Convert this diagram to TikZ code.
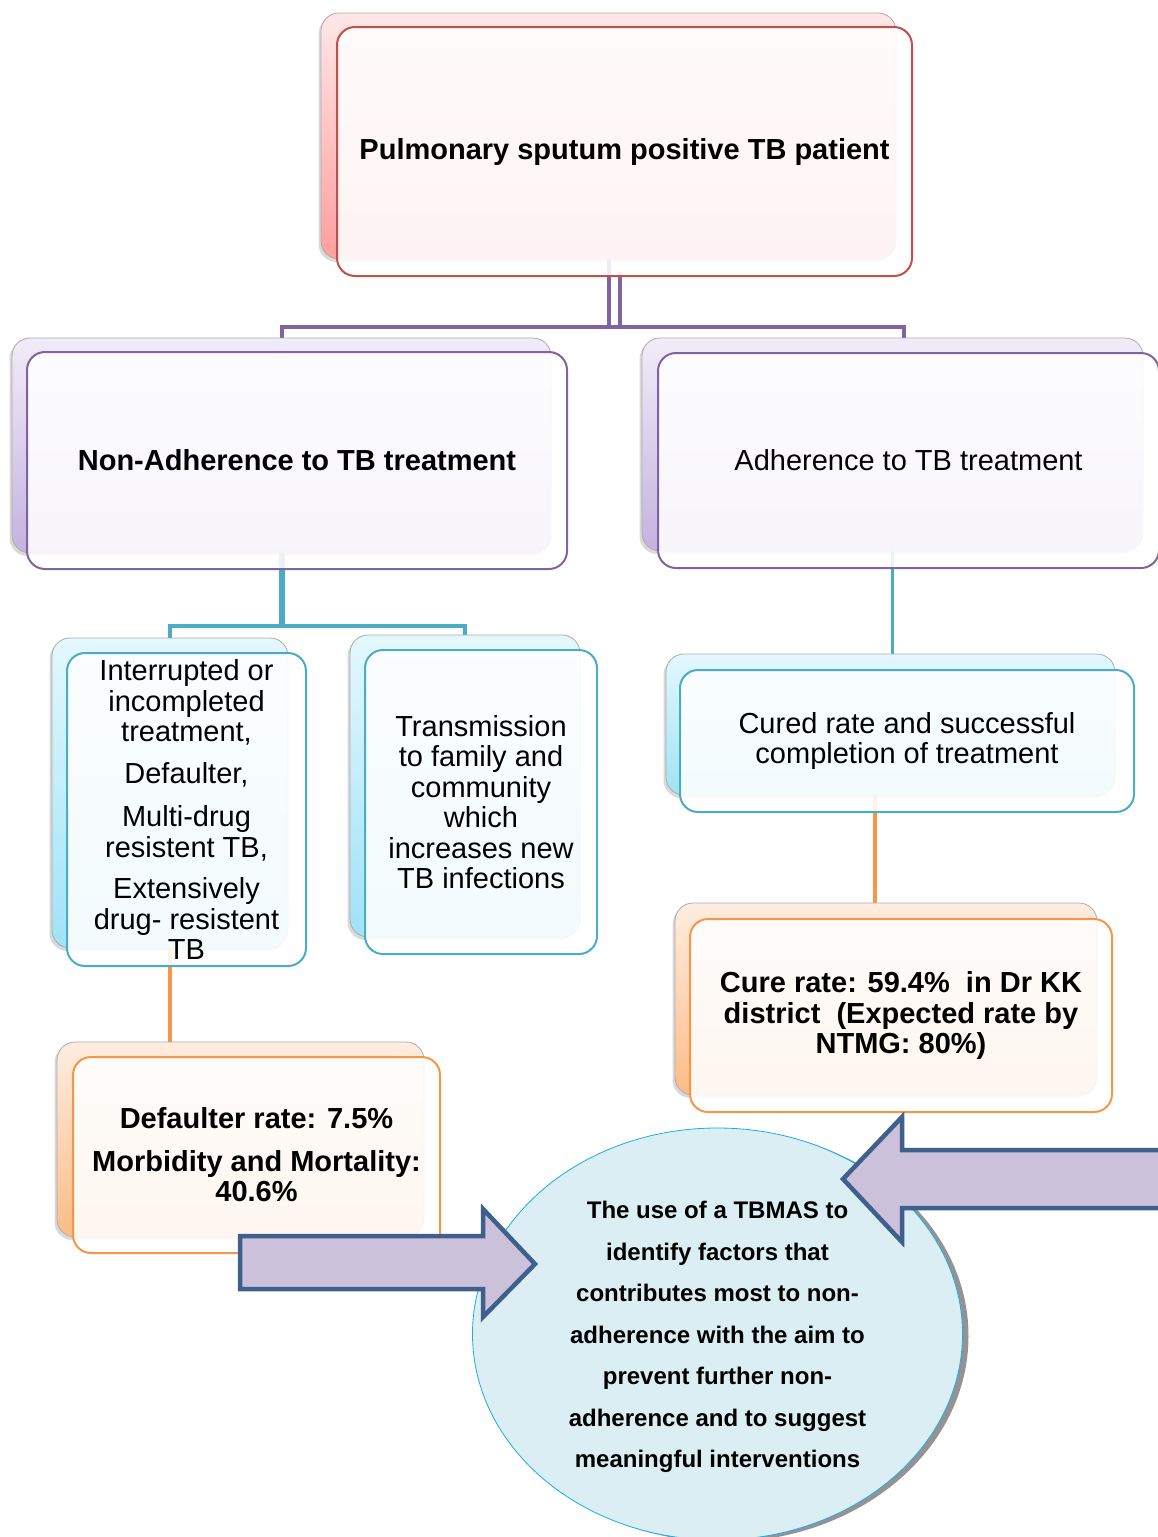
\documentclass[tikz,border=0pt]{standalone}
\usepackage{fontspec}
\setmainfont{Liberation Sans}
\usetikzlibrary{shapes.geometric,shadows,calc}
\pgfdeclarelayer{bg}
\pgfsetlayers{bg,main}

% palette
\definecolor{redE}{HTML}{C0504D}
\definecolor{redT}{HTML}{FFE7E7}
\definecolor{redB}{HTML}{FF9E9E}
\definecolor{purE}{HTML}{8064A2}
\definecolor{purT}{HTML}{F1ECF8}
\definecolor{purB}{HTML}{C4B2E0}
\definecolor{tealE}{HTML}{4BACC6}
\definecolor{tealT}{HTML}{E4F8FD}
\definecolor{tealB}{HTML}{9FE3F6}
\definecolor{orE}{HTML}{F79646}
\definecolor{orT}{HTML}{FEEDE0}
\definecolor{orB}{HTML}{FCBC86}
\definecolor{ovalF}{HTML}{DAEEF3}
\definecolor{ovalE}{HTML}{1CADE4}
\definecolor{arrF}{HTML}{CCC1DA}
\definecolor{arrE}{HTML}{3F5F8C}

\tikzset{
  box/.style={rectangle, rounded corners=18pt, inner sep=0pt, align=center},
  backbox/.style={box, draw=gray!65, line width=0.8pt,
    drop shadow={shadow xshift=-2.5pt, shadow yshift=-3pt, opacity=0.3}},
  frontbox/.style={box, line width=2pt, fill=white, fill opacity=0.88, text opacity=1},
  reg/.style={font=\fontsize{29}{30.5}\selectfont},
  bld/.style={font=\fontsize{29}{30.5}\selectfont\bfseries},
  purline/.style={draw=purE, line width=4pt},
  tealline/.style={draw=tealE, line width=4pt},
  orline/.style={draw=orE, line width=3.5pt},
  oval/.style={ellipse, minimum width=490pt, minimum height=412pt, fill=ovalF,
    draw=ovalE, line width=0.8pt,
    drop shadow={shadow xshift=6pt, shadow yshift=-2pt, fill=gray!85, opacity=1}},
  ovaltext/.style={align=center, inner sep=0pt,
    font=\fontsize{24}{41.5}\selectfont\bfseries},
  blockarrow/.style={fill=arrF, draw=arrE, line width=4.5pt, line join=miter}
}

\begin{document}
\begin{tikzpicture}[x=1pt, y=-1pt]
\useasboundingbox (0,0) rectangle (1157,1537);

% ---- top level
\node[backbox, top color=redT, bottom color=redB, minimum width=575pt, minimum height=246pt] (topB) at (608.5,136) {};
\node[frontbox, draw=redE, minimum width=575pt, minimum height=249pt, bld] (top) at (624.5,151.5) {Pulmonary sputum positive TB patient};

% ---- second level
\node[backbox, top color=purT, bottom color=purB, minimum width=539pt, minimum height=215pt] (nonB) at (281.5,445.5) {};
\node[frontbox, draw=purE, minimum width=540pt, minimum height=217pt, bld] (non) at (297,460.5) {Non-Adherence to TB treatment};

\node[backbox, top color=purT, bottom color=purB, minimum width=501pt, minimum height=213pt] (adhB) at (892.5,444.5) {};
\node[frontbox, draw=purE, minimum width=501pt, minimum height=215pt, reg] (adh) at (908.5,460.5) {Adherence to TB treatment};

% ---- third level
\node[backbox, top color=tealT, bottom color=tealB, minimum width=236pt, minimum height=310pt] (intB) at (170,793) {};
\node[frontbox, draw=tealE, minimum width=239pt, minimum height=313pt, reg] (int) at (186.5,809.5)
  {Interrupted or\\ incompleted\\ treatment,\\[11pt] Defaulter,\\[13pt] Multi-drug\\ resistent TB,\\[11pt] Extensively\\ drug- resistent\\ TB};

\node[backbox, top color=tealT, bottom color=tealB, minimum width=230pt, minimum height=302pt] (trB) at (465,786) {};
\node[frontbox, draw=tealE, minimum width=232pt, minimum height=304pt, reg] (tr) at (481,802)
  {Transmission\\ to family and\\ community\\ which\\ increases new\\ TB infections};

\node[backbox, top color=tealT, bottom color=tealB, minimum width=449pt, minimum height=141pt] (curB) at (890.5,724.5) {};
\node[frontbox, draw=tealE, minimum width=454pt, minimum height=142pt, reg] (cur) at (907,741)
  {Cured rate and successful\\ completion of treatment};

% ---- fourth level
\node[backbox, top color=orT, bottom color=orB, minimum width=367pt, minimum height=195pt] (oraLB) at (240.5,1139.5) {};
\node[frontbox, draw=orE, minimum width=367pt, minimum height=196pt, bld] (oraL) at (256.5,1155)
  {Defaulter rate: 7.5\%\\[12pt] Morbidity and Mortality:\\ 40.6\%};

\node[backbox, top color=orT, bottom color=orB, minimum width=422pt, minimum height=192pt] (oraRB) at (886,999) {};
\node[frontbox, draw=orE, minimum width=422pt, minimum height=193pt, bld] (oraR) at (901,1015.5)
  {Cure rate: 59.4\%\ \ in Dr KK\\ district\ \ (Expected rate by\\ NTMG: 80\%)};

% ---- connectors, behind the boxes
\coordinate (purbus) at (600,327);
\coordinate (tealbus) at (300,626);
\coordinate (orR) at (875,0);
\coordinate (topmid) at ($(topB.south)!0.7!(top.south)$);
\coordinate (adhmid) at ($(adhB.north)!0.7!(adh.north)$);
\begin{pgfonlayer}{bg}
  \draw[purline] (topB.south) -- (topB.south |- purbus);
  \draw[purline] (topmid) -- (topmid |- purbus);
  \draw[purline] (nonB.north) -- (nonB.north |- purbus)
      -- (adhmid |- purbus) -- (adhmid);
  \draw[tealline, line width=6pt] (nonB.south) -- (nonB.south |- tealbus);
  \draw[tealline] (intB.north) -- (intB.north |- tealbus) -- (trB.north |- tealbus) -- (trB.north);
  \draw[tealline, line width=3.5pt] (adhB.south) -- (adhB.south |- curB.north);
  \draw[orline] (curB.south -| orR) -- (oraRB.north -| orR);
  \draw[orline] (intB.south) -- (intB.south |- oraLB.north);
\end{pgfonlayer}

% ---- central oval with its two block arrows
\node[oval] (ov) at (717.5,1334) {};
\node[ovaltext] (ovtxt) at ($(ov.center)+(0,3)$)
  {The use of a TBMAS to\\ identify factors that\\ contributes most to non-\\ adherence with the aim to\\ prevent further non-\\ adherence and to suggest\\ meaningful interventions};

\coordinate (tipL) at (535,1264);
\draw[blockarrow] (tipL) -- ++(-52,-55) -- ++(0,27) -- ++(-243,0) -- ++(0,53)
  -- ++(243,0) -- ++(0,28) -- cycle;
\coordinate (tipR) at (843,1179);
\draw[blockarrow] (tipR) -- ++(59,-62) -- ++(0,33) -- ++(280,0) -- ++(0,58)
  -- ++(-280,0) -- ++(0,34) -- cycle;
\end{tikzpicture}
\end{document}
